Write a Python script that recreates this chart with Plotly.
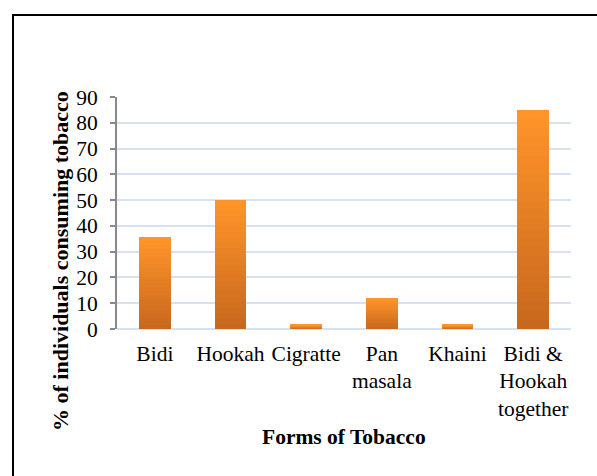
import plotly.graph_objects as go

categories = ["Bidi", "Hookah", "Cigratte", "Pan<br>masala", "Khaini", "Bidi &<br>Hookah<br>together"]
values = [35.5, 50, 1.6, 12, 1.6, 85]
y_ticks = [0, 10, 20, 30, 40, 50, 60, 70, 80, 90]

W, H = 597, 476
L, R, T, B = 117, 26, 97, 147
pw, ph = W - L - R, H - T - B

def px_to_paper_x(px):
    return (px - L) / pw

def px_to_paper_y(py):
    return (H - B - py) / ph

top_rgb = (255, 148, 42)
bot_rgb = (200, 104, 30)
N = 24

fig = go.Figure()
for i in range(N):
    t = i / (N - 1)
    c = tuple(round(bot_rgb[k] + (top_rgb[k] - bot_rgb[k]) * t) for k in range(3))
    fig.add_trace(go.Bar(
        x=categories,
        y=[v / N for v in values],
        marker=dict(color="rgb(%d,%d,%d)" % c, line=dict(width=0)),
        showlegend=False,
        hoverinfo="skip",
    ))

font_family = "Liberation Serif, Times New Roman, serif"

fig.update_layout(
    width=W, height=H,
    margin=dict(l=L, r=R, t=T, b=B, pad=0),
    paper_bgcolor="white",
    plot_bgcolor="white",
    barmode="stack",
    bargap=0.58,
    font=dict(family=font_family, size=21.5, color="black"),
    xaxis=dict(
        type="category",
        showgrid=False,
        showline=False,
        ticks="",
        tickfont=dict(size=21.5),
        ticklabelstandoff=9,
    ),
    yaxis=dict(
        range=[0, 90],
        tickvals=y_ticks,
        showgrid=True,
        gridcolor="#D6E2F2",
        gridwidth=2,
        zeroline=True,
        zerolinecolor="#D6E2F2",
        zerolinewidth=2,
        showline=True,
        linecolor="#8A8A8A",
        linewidth=2,
        ticks="outside",
        ticklen=5,
        tickwidth=2,
        tickcolor="#8A8A8A",
        tickfont=dict(size=21.5),
        ticklabelstandoff=8,
    ),
    annotations=[
        dict(text="<b>Forms of Tobacco</b>", xref="paper", yref="paper",
             x=px_to_paper_x(344), y=px_to_paper_y(437),
             xanchor="center", yanchor="middle", showarrow=False,
             font=dict(size=21.5, family=font_family, color="black")),
        dict(text="<b>% of individuals consuming tobacco</b>", xref="paper", yref="paper",
             x=px_to_paper_x(60), y=px_to_paper_y(261), textangle=-90,
             xanchor="center", yanchor="middle", showarrow=False,
             font=dict(size=22, family=font_family, color="black")),
    ],
    shapes=[
        dict(type="rect", xref="paper", yref="paper",
             x0=px_to_paper_x(13), x1=px_to_paper_x(640),
             y0=px_to_paper_y(520), y1=px_to_paper_y(15),
             line=dict(color="black", width=2), fillcolor="rgba(0,0,0,0)", layer="above"),
    ],
)

fig.write_html("out.html")
